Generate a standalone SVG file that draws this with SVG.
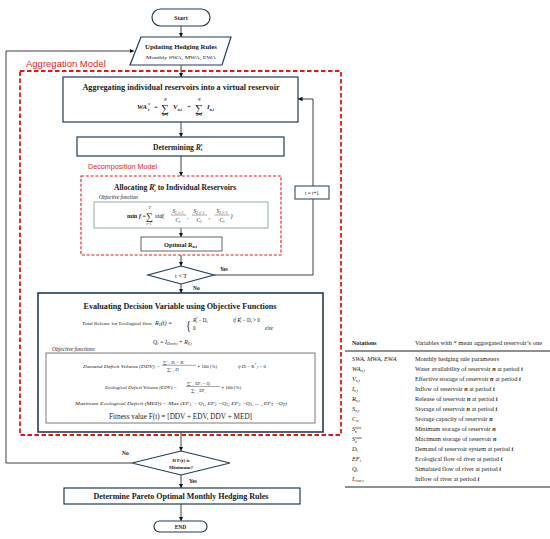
<svg xmlns="http://www.w3.org/2000/svg" width="550" height="539" viewBox="0 0 550 539">
<style>
.bg{fill:#fff}
.box{fill:#fff;stroke:#1f3f52;stroke-width:1.2}
.thick{stroke-width:1.6}
.red{fill:none;stroke:#e8161b;stroke-width:1.8;stroke-dasharray:4.5 2.5}
.red2{fill:none;stroke:#e8161b;stroke-width:1.1;stroke-dasharray:3 1.8}
.fbox{fill:#fff;stroke:#8aa59c;stroke-width:0.9}
.gbox{fill:#fff;stroke:#7a7a7a;stroke-width:1}
.conn{fill:none;stroke:#2a2a2a;stroke-width:0.9}
.ln{stroke:#222;stroke-width:0.4}
text{font-family:"Liberation Serif","DejaVu Serif",serif;fill:#1a1a1a}
.b{font-weight:bold}
.i{font-style:italic}
.bi{font-weight:bold;font-style:italic}
.c{text-anchor:middle}
.rt{font-family:"Liberation Sans",Arial,sans-serif;fill:#ee1c24}
.tb text{font-size:6.3px}
</style>
<defs>
<marker id="ah" viewBox="0 0 10 10" refX="10" refY="5" markerWidth="4.5" markerHeight="4.5" markerUnits="userSpaceOnUse" orient="auto">
<path d="M0,0 L10,5 L0,10 z" fill="#111"/>
</marker>
</defs>
<rect class="bg" x="0" y="0" width="550" height="539"/>

<g id="connectors">
<path class="conn" d="M181,26 V37" marker-end="url(#ah)"/>
<path class="conn" d="M181,65 V77" marker-end="url(#ah)"/>
<path class="conn" d="M181,122 V137" marker-end="url(#ah)"/>
<path class="conn" d="M181,156 V176" marker-end="url(#ah)"/>
<path class="conn" d="M181,228 V237" marker-end="url(#ah)"/>
<path class="conn" d="M181,255 V266" marker-end="url(#ah)"/>
<path class="conn" d="M181,284 V293" marker-end="url(#ah)"/>
<path class="conn" d="M214,275 H313 V99 H298" marker-end="url(#ah)"/>
<path class="conn" d="M181,432 V451" marker-end="url(#ah)"/>
<path class="conn" d="M132,463 H6 V51 H134" marker-end="url(#ah)"/>
<path class="conn" d="M181,475 V488" marker-end="url(#ah)"/>
<path class="conn" d="M181,504 V521" marker-end="url(#ah)"/>
<text x="220" y="271" font-size="5.5" class="b">Yes</text>
<text x="193" y="290" font-size="5.5" class="b">No</text>
<text x="122" y="455" font-size="5.5" class="b">No</text>
<text x="189" y="483" font-size="5.5" class="b">Yes</text>
</g>

<g id="aggregation-model">
<rect class="red" x="20" y="71" width="321" height="364"/>
<text class="rt" x="26" y="67" font-size="9.5">Aggregation Model</text>
</g>

<g id="start">
<rect class="box" x="152" y="9" width="58" height="17" rx="8.5"/>
<text class="b c" x="181" y="20" font-size="6.2">Start</text>
</g>

<g id="updating">
<polygon class="box" points="141,37 231,37 222,65 130,65"/>
<text class="b c" x="181" y="49" font-size="6.6" textLength="72" lengthAdjust="spacingAndGlyphs">Updating Hedging Rules</text>
<text class="c" x="181" y="59" font-size="5" textLength="70" lengthAdjust="spacingAndGlyphs">Monthly SWA, MWA, EWA</text>
</g>

<g id="aggregating">
<rect class="box" x="63" y="77" width="235" height="45"/>
<text class="b c" x="181" y="90" font-size="7.6" textLength="197" lengthAdjust="spacingAndGlyphs">Aggregating individual reservoirs into a virtual reservoir</text>
<text class="bi" x="137" y="109" font-size="6.8">WA</text>
<text class="bi" x="148" y="111" font-size="4.2">t</text>
<text class="bi" x="148" y="106" font-size="4.2">*</text>
<text x="154" y="109" font-size="6.8">=</text>
<text x="161" y="111.5" font-size="11">∑</text>
<text class="bi" x="164" y="101" font-size="3.6">N</text>
<text class="bi" x="162.5" y="116" font-size="3.4">n=1</text>
<text class="bi" x="173" y="109" font-size="6.8">V</text>
<text class="bi" x="177.5" y="110.5" font-size="4">n,t</text>
<text x="187" y="109" font-size="6.8">+</text>
<text x="195" y="111.5" font-size="11">∑</text>
<text class="bi" x="198" y="101" font-size="3.6">N</text>
<text class="bi" x="196.5" y="116" font-size="3.4">n=1</text>
<text class="bi" x="207" y="109" font-size="6.8">I</text>
<text class="bi" x="209.5" y="110.5" font-size="4">n,t</text>
</g>

<g id="determining">
<rect class="box" x="77" y="137" width="207" height="19"/>
<text class="b" x="153" y="149.5" font-size="7.6">Determining <tspan class="bi">R</tspan><tspan class="bi" font-size="4.5" dy="1.8">t</tspan><tspan class="bi" font-size="4.5" dx="-2" dy="-4.5">*</tspan></text>
</g>

<g id="decomposition-model">
<rect class="red2" x="81" y="176" width="200" height="79"/>
<text class="rt" x="88" y="169" font-size="7.2">Decomposition Model</text>
</g>

<g id="allocating">
<text class="b" x="114" y="190" font-size="7.6">Allocating <tspan class="bi">R</tspan><tspan class="bi" font-size="4.5" dy="1.8">t</tspan><tspan class="bi" font-size="4.5" dx="-2" dy="-4.5">*</tspan><tspan dy="2.7"> to Individual Reservoirs</tspan></text>
<text class="i" x="99" y="199" font-size="5.3">Objective function</text>
<rect class="fbox" x="94" y="202" width="174" height="26"/>
<text class="b" x="127" y="217.5" font-size="6.2">min <tspan class="i">f</tspan> <tspan font-weight="normal">=</tspan></text>
<text x="146" y="219.5" font-size="10">∑</text>
<text class="i" x="148.5" y="208.5" font-size="3.6">T</text>
<text class="i" x="146.5" y="225" font-size="3.4">t=1</text>
<text class="i" x="155" y="217.5" font-size="6.2">std(</text>
<text class="i c" x="178" y="213" font-size="5.2">S<tspan font-size="3.5" dy="0.8">1, t+1</tspan></text>
<line class="ln" x1="171" y1="215" x2="186" y2="215"/>
<text class="i c" x="178" y="221.8" font-size="5.2">C<tspan font-size="3.5" dy="0.8">1</tspan></text>
<text x="187" y="218.5" font-size="5.5">,</text>
<text class="i c" x="199" y="213" font-size="5.2">S<tspan font-size="3.5" dy="0.8">2, t+1</tspan></text>
<line class="ln" x1="192" y1="215" x2="207" y2="215"/>
<text class="i c" x="199" y="221.8" font-size="5.2">C<tspan font-size="3.5" dy="0.8">2</tspan></text>
<text x="208.5" y="218.5" font-size="5.5">,</text>
<text class="i c" x="222" y="213" font-size="5.2">S<tspan font-size="3.5" dy="0.8">3, t+1</tspan></text>
<line class="ln" x1="214.5" y1="215" x2="229.5" y2="215"/>
<text class="i c" x="222" y="221.8" font-size="5.2">C<tspan font-size="3.5" dy="0.8">3</tspan></text>
<text class="i" x="230.5" y="217.5" font-size="6.2">)</text>
</g>

<g id="optimal">
<rect class="box" x="141" y="237" width="81" height="14" style="stroke:#555;stroke-width:0.9"/>
<text class="b" x="164" y="246.5" font-size="6.3">Optimal R<tspan font-size="4" dy="1.2">n,t</tspan></text>
</g>

<g id="t-lt-T">
<polygon class="box" points="181,266 214,275 181,284 148,275"/>
<text class="c" x="181" y="277.5" font-size="6.3">t &lt; T</text>
</g>

<g id="t-increment">
<rect class="box" x="295" y="186" width="34" height="13" style="stroke-width:1"/>
<text class="c" x="312" y="194.8" font-size="5.2">t = t+1</text>
</g>

<g id="evaluating">
<rect class="box thick" x="38" y="293" width="285" height="139"/>
<text class="b c" x="180" y="309" font-size="7.6" textLength="193" lengthAdjust="spacingAndGlyphs">Evaluating Decision Variable using Objective Functions</text>
<text x="82" y="325" font-size="5" textLength="70" lengthAdjust="spacingAndGlyphs">Total Release for Ecological flow</text>
<text class="i" x="155" y="325" font-size="6">R<tspan font-size="3.6" dy="1">E</tspan><tspan dy="-1">(t) =</tspan></text>
<text x="186" y="330.5" font-size="13" transform="translate(186 330.5) scale(0.8 1) translate(-186 -330.5)">{</text>
<text x="193" y="322" font-size="5.2"><tspan class="i">R</tspan><tspan class="i" font-size="3.4" dy="1">t</tspan><tspan class="i" font-size="3.4" dx="-1.5" dy="-3">*</tspan><tspan dy="2"> − D</tspan><tspan font-size="3.4" dy="1">t</tspan></text>
<text class="i" x="233" y="322" font-size="5.2">if R<tspan font-size="3.4" dy="1">t</tspan><tspan font-size="3.4" dx="-1.5" dy="-3">*</tspan><tspan font-style="normal" dy="2"> − D</tspan><tspan font-size="3.4" dy="1">t</tspan><tspan font-style="normal" dy="-1"> &gt; 0</tspan></text>
<text x="193" y="330" font-size="5.2">0</text>
<text class="i" x="265" y="330" font-size="5.2">else</text>
<text class="i" x="153" y="343.5" font-size="5.8">Q<tspan font-size="3.6" dy="1">t</tspan><tspan dy="-1"> = I</tspan><tspan font-size="3.6" dy="1">Down,t</tspan><tspan dy="-1"> + R</tspan><tspan font-size="3.6" dy="1">E,t</tspan></text>
<text class="i" x="52" y="351" font-size="5.5">Objective functions</text>
<rect class="gbox" x="46" y="353" width="269" height="70"/>
<text class="i" x="83" y="368" font-size="4.8" textLength="77" lengthAdjust="spacingAndGlyphs">Demand Deficit Volume (DDV) =</text>
<text x="163" y="363.5" font-size="4.6">∑<tspan class="i" font-size="2.8" dy="-1.8">T</tspan><tspan class="i" font-size="2.8" dx="-1.8" dy="3.3">t=1</tspan><tspan class="i" dy="-1.5"> D</tspan><tspan class="i" font-size="2.8" dy="0.8">t</tspan><tspan dy="-0.8"> − </tspan><tspan class="i">R</tspan><tspan class="i" font-size="2.8" dy="-1.5">*</tspan><tspan class="i" font-size="2.8" dx="-1.4" dy="2.3">t</tspan></text>
<line class="ln" x1="162" y1="365.3" x2="196" y2="365.3"/>
<text x="167" y="370.8" font-size="4.6">∑<tspan class="i" font-size="2.8" dy="-1.8">T</tspan><tspan class="i" font-size="2.8" dx="-1.8" dy="3.3">t=1</tspan><tspan class="i" dy="-1.5"> D</tspan><tspan class="i" font-size="2.8" dy="0.8">t</tspan></text>
<text x="197" y="367.5" font-size="4.8">∗ 100 (%)</text>
<text class="i" x="238" y="367.5" font-size="4.8">if D<tspan font-size="3" dy="0.8">t</tspan><tspan font-style="normal" dy="-0.8"> − R</tspan><tspan font-size="3" dy="-1.5">*</tspan><tspan font-size="3" dy="1.5">_t</tspan><tspan font-style="normal"> &gt; 0</tspan></text>
<text class="i" x="105" y="389" font-size="4.8" textLength="72" lengthAdjust="spacingAndGlyphs">Ecological Deficit Volume (EDV) =</text>
<text x="187" y="384.5" font-size="4.6">∑<tspan class="i" font-size="2.8" dy="-1.8">T</tspan><tspan class="i" font-size="2.8" dx="-1.8" dy="3.3">t=1</tspan><tspan dy="-1.5"> EF</tspan><tspan font-size="2.8" dy="0.8">t</tspan><tspan dy="-0.8"> − </tspan><tspan class="i">Q</tspan><tspan class="i" font-size="2.8" dy="0.8">t</tspan></text>
<line class="ln" x1="186" y1="386.5" x2="220" y2="386.5"/>
<text x="191" y="392.3" font-size="4.6">∑<tspan class="i" font-size="2.8" dy="-1.8">T</tspan><tspan class="i" font-size="2.8" dx="-1.8" dy="3.3">t=1</tspan><tspan dy="-1.5"> EF</tspan><tspan font-size="2.8" dy="0.8">t</tspan></text>
<text x="221" y="389" font-size="4.8">∗ 100 (%)</text>
<text class="i" x="75" y="405" font-size="4.6" textLength="212" lengthAdjust="spacingAndGlyphs">Maximum Ecological Deficit (MED) = Max (EF<tspan font-size="3" dy="0.8">1</tspan><tspan dy="-0.8"> − Q</tspan><tspan font-size="3" dy="0.8">1</tspan><tspan dy="-0.8">, EF</tspan><tspan font-size="3" dy="0.8">2</tspan><tspan dy="-0.8"> −Q</tspan><tspan font-size="3" dy="0.8">2</tspan><tspan dy="-0.8">, EF</tspan><tspan font-size="3" dy="0.8">3</tspan><tspan dy="-0.8"> −Q</tspan><tspan font-size="3" dy="0.8">3</tspan><tspan dy="-0.8">, ... , EF</tspan><tspan font-size="3" dy="0.8">T</tspan><tspan dy="-0.8"> −Q</tspan><tspan font-size="3" dy="0.8">T</tspan><tspan dy="-0.8">)</tspan></text>
<text x="109" y="418.5" font-size="7.3" textLength="143" lengthAdjust="spacingAndGlyphs">Fitness value F(t) = [DDV + EDV, DDV + MED]</text>
</g>

<g id="if-minimum">
<polygon class="box" points="181,451 230,463 181,475 132,463"/>
<text class="b c" x="181" y="461.5" font-size="5">If F(t) is</text>
<text class="b c" x="181" y="468.5" font-size="5">Minimum?</text>
</g>

<g id="determine-pareto">
<rect class="box" x="64" y="488" width="236" height="16"/>
<text class="b c" x="181" y="498.8" font-size="7.6" textLength="175" lengthAdjust="spacingAndGlyphs">Determine Pareto Optimal Monthly Hedging Rules</text>
</g>

<g id="end">
<rect class="box" x="154" y="521" width="53" height="11" rx="5.5"/>
<text class="b c" x="180.5" y="529" font-size="5.5">END</text>
</g>

<g id="notations">
<line x1="345" y1="351" x2="550" y2="351" stroke="#222" stroke-width="1.2"/>
<line x1="345" y1="487" x2="550" y2="487" stroke="#222" stroke-width="1"/>
<text class="b" x="352" y="345" font-size="6">Notations</text>
<text x="415" y="345" font-size="6" textLength="127" lengthAdjust="spacingAndGlyphs">Variables with * mean aggregated reservoir’s one</text>
<g class="tb">
<text class="i" x="352" y="361">SWA, MWA, EWA</text>
<text class="i" x="352" y="371">WA<tspan font-size="4" dy="1">n,t</tspan></text>
<text class="i" x="352" y="381">V<tspan font-size="4" dy="1">n,t</tspan></text>
<text class="i" x="352" y="391">I<tspan font-size="4" dy="1">n,t</tspan></text>
<text class="i" x="352" y="401">R<tspan font-size="4" dy="1">n,t</tspan></text>
<text class="i" x="352" y="411">S<tspan font-size="4" dy="1">n,t</tspan></text>
<text class="i" x="352" y="421">C<tspan font-size="4" dy="1">n</tspan></text>
<text class="i" x="352" y="431">S<tspan font-size="4" dy="-2">min</tspan><tspan font-size="4" dx="-6.3" dy="3.5">n</tspan></text>
<text class="i" x="352" y="441">S<tspan font-size="4" dy="-2">max</tspan><tspan font-size="4" dx="-6.8" dy="3.5">n</tspan></text>
<text class="i" x="352" y="451">D<tspan font-size="4" dy="1">t</tspan></text>
<text class="i" x="352" y="461">EF<tspan font-size="4" dy="1">t</tspan></text>
<text class="i" x="352" y="471">Q<tspan font-size="4" dy="1">t</tspan></text>
<text class="i" x="352" y="481">I<tspan font-size="4" dy="1">river,t</tspan></text>
<text x="415" y="361">Monthly hedging rule parameters</text>
<text x="415" y="371">Water availability of reservoir <tspan class="bi">n</tspan> at period <tspan class="bi">t</tspan></text>
<text x="415" y="381">Effective storage of reservoir <tspan class="bi">n</tspan> at period <tspan class="bi">t</tspan></text>
<text x="415" y="391">Inflow of reservoir <tspan class="bi">n</tspan> at period <tspan class="bi">t</tspan></text>
<text x="415" y="401">Release of reservoir <tspan class="bi">n</tspan> at period <tspan class="bi">t</tspan></text>
<text x="415" y="411">Storage of reservoir <tspan class="bi">n</tspan> at period <tspan class="bi">t</tspan></text>
<text x="415" y="421">Storage capacity of  reservoir <tspan class="bi">n</tspan></text>
<text x="415" y="431">Minimum storage of reservoir <tspan class="bi">n</tspan></text>
<text x="415" y="441">Macimum storage of reservoir <tspan class="bi">n</tspan></text>
<text x="415" y="451">Demand of reservoir system at period <tspan class="bi">t</tspan></text>
<text x="415" y="461">Ecological flow of river at period <tspan class="bi">t</tspan></text>
<text x="415" y="471">Simulated flow of river at period <tspan class="bi">t</tspan></text>
<text x="415" y="481">Inflow of river at period <tspan class="bi">t</tspan></text>
</g>
</g>
</svg>
